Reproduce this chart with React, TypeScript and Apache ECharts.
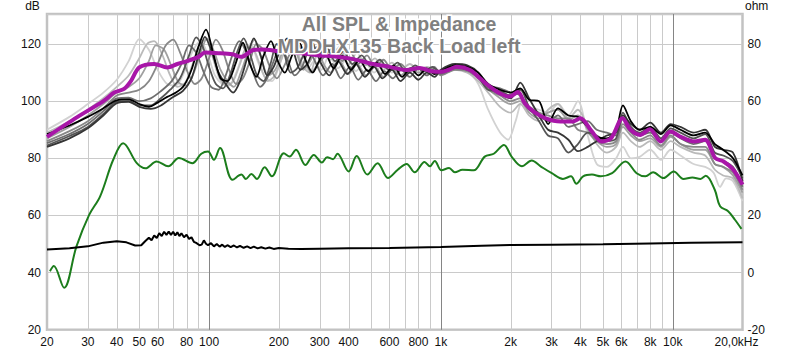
import React, { useEffect, useRef } from "react";
import * as echarts from "echarts";

// ---------- axis / tick data ----------
const GRID_FREQS = [30, 40, 50, 60, 70, 80, 90, 100, 200, 300, 400, 500, 600, 700, 800, 900, 1000, 2000, 3000, 4000, 5000, 6000, 7000, 8000, 9000, 10000];
const DECADE_FREQS = [100, 1000, 10000];
const TICK_FREQS = [20, 30, 40, 50, 60, 80, 100, 200, 300, 400, 600, 800, 1000, 2000, 3000, 4000, 5000, 6000, 8000, 10000, 20000];
const TICK_LABELS = ["20", "30", "40", "50", "60", "80", "100", "200", "300", "400", "600", "800", "1k", "2k", "3k", "4k", "5k", "6k", "8k", "10k", "20,0kHz"];
const DB_MIN = 20;
const DB_MAX = 130.5;
const OHM_MIN = -20;
const OHM_MAX = 90.5;
const STEP = 20;
const TITLE_LINES = ["All SPL & Impedance", "MDDHX135 Back Load left"];

// ---------- series data: [frequency Hz, dB] ----------
const SPL_A = [[20,88.5],[25,91.5],[30,94.5],[35,97.5],[40,100.3],[45,100.6],[50,99],[55,98],[60,99.5],[66,101.5],[72,103],[78,105.5],[84,111],[90,119],[97,125],[104,117],[112,108],[120,107],[130,113],[140,120.5],[150,113],[160,108.5],[172,116],[185,121],[198,114],[212,110],[228,116],[245,120.5],[262,114],[280,110],[298,114],[315,117],[345,111.5],[375,116],[410,111],[445,114.5],[485,110.5],[530,113.5],[575,109.5],[625,112.5],[680,108.5],[740,111.5],[800,109],[870,111.5],[940,109.5],[1000,110.5],[1150,112.5],[1300,112],[1450,110],[1600,106],[1800,104],[2000,103],[2200,104.5],[2400,100.5],[2650,100],[2900,92],[3200,97.5],[3550,95],[3900,94.5],[4300,91],[4700,87.5],[5200,87],[5700,90],[6100,98.5],[6600,93],[7200,90],[8000,91],[8900,88.5],[9800,91.5],[10800,90],[12300,88],[13800,89],[15200,85],[16500,83],[18200,80],[20000,74]];
const SPL_B = [[20,84],[25,87],[30,90.5],[35,95],[40,99.3],[45,99.8],[50,98],[56,97.3],[62,98.5],[70,101.5],[77,103.5],[84,108],[90,116],[96,122.5],[103,117],[110,110],[118,106],[127,103],[136,107],[146,115],[156,122],[167,116],[178,109],[190,112],[203,118],[217,122],[232,117],[248,111],[265,113],[285,118],[305,113],[330,109],[360,114],[395,109.5],[430,113],[470,108.5],[515,112],[560,108],[615,111],[670,107],[735,110],[800,107.5],[870,110],[940,108.5],[1000,111],[1150,113],[1300,112.5],[1450,110],[1600,105],[1800,102.5],[2000,101],[2200,106.5],[2400,101],[2650,95],[2900,90],[3200,89],[3550,86.5],[3900,82.5],[4300,84],[4700,86],[5200,88],[5700,89],[6100,95],[6600,92],[7200,90],[8000,92.5],[8900,89],[9800,92],[10800,91],[12300,89],[13800,90],[15200,84],[16500,83],[18200,82],[20000,72]];
const SPL_C = [[20,84.5],[25,87.8],[30,91],[35,95.5],[40,99.8],[45,100],[50,98.5],[56,98.5],[62,101],[68,104],[75,108],[82,116],[88,122.3],[94,119],[100,112],[107,106],[115,104.5],[123,109],[132,117],[141,122],[151,116],[161,109],[172,107],[184,113],[196,120],[210,117],[225,110],[240,111.5],[258,117],[277,121],[297,116],[320,119],[350,114],[380,117.5],[415,113],[455,116],[500,112],[545,114.5],[595,111],[650,113.5],[710,110],[775,112.5],[845,110.5],[920,112],[1000,110],[1150,112],[1300,111],[1450,108.5],[1600,104],[1800,103.5],[2000,102],[2200,104],[2400,98],[2650,93],[2900,88],[3200,87],[3550,82],[3900,85],[4300,89],[4700,88],[5200,86],[5700,87],[6100,96],[6600,91],[7200,89],[8000,91],[8900,87],[9800,90.5],[10800,89],[12300,87],[13800,88.5],[15200,82],[16500,81],[18200,79],[20000,73]];
const SPL_D = [[20,85.3],[25,88.5],[30,92],[35,96.5],[40,101],[45,101.2],[50,100],[56,101],[62,103.5],[69,107],[76,113],[82,119.5],[88,117],[95,110],[102,105],[110,104],[118,109],[126,116],[135,121],[145,117],[155,110],[166,105],[178,108],[190,114],[203,119],[218,114.5],[234,109],[252,112],[270,117.5],[290,113],[310,109],[340,113],[370,108],[405,112],[440,107.5],[480,111],[525,107],[570,110.5],[620,108],[675,111],[735,108.5],[800,111.5],[870,109],[940,111.5],[1000,109.5],[1150,111.5],[1300,111],[1450,109],[1600,105.5],[1800,104.5],[2000,103],[2200,102],[2400,97],[2650,95],[2900,93],[3200,95],[3550,91],[3900,92],[4300,93],[4700,90],[5200,89],[5700,88],[6100,94],[6600,90],[7200,88],[8000,89],[8900,86],[9800,89],[10800,87],[12300,85],[13800,86],[15200,80],[16500,79],[18200,77],[20000,70]];
const SPL_E = [[20,86],[25,89.5],[30,93],[35,97.5],[40,102],[45,103],[50,104],[55,107],[60,113],[65,119.5],[70,121.5],[75,117],[81,110],[87,106],[93,108],[100,115],[107,121.5],[114,118],[122,111],[131,106],[140,108],[150,114],[160,120],[171,118],[183,112],[196,108],[210,112],[225,117],[241,120],[258,115],[276,110],[295,113],[318,116],[345,119],[375,114],[405,117.5],[440,113],[480,116],[520,112],[565,114.5],[615,111],[670,113],[730,110.5],[795,112],[865,110.5],[935,112],[1000,109],[1150,111],[1300,110.5],[1450,108],[1600,104],[1800,102],[2000,100],[2200,101],[2400,98],[2650,96],[2900,95],[3200,94],[3550,94],[3900,90],[4300,89],[4700,86],[5200,85],[5700,86],[6100,92],[6600,89],[7200,86.5],[8000,88],[8900,84.5],[9800,88],[10800,85],[12300,84],[13800,84],[15200,78],[16500,77],[18200,75],[20000,69]];
const SPL_F = [[20,87],[25,91],[30,95],[35,99],[40,103],[45,105],[50,108],[55,114],[59,119.5],[64,118],[69,112],[74,106.5],[80,105.5],[86,110],[92,117],[98,122],[105,117.5],[112,111],[120,107],[128,105],[137,110],[147,117],[157,121.5],[168,115],[180,109],[193,111],[207,117],[222,121],[238,117],[255,111],[273,114],[292,119],[312,113],[335,110],[365,114],[400,109.5],[435,113],[475,109],[520,112],[565,108.5],[615,111.5],[670,109],[735,111.5],[800,110],[870,111],[940,109.5],[1000,110],[1150,111.5],[1300,111],[1450,109],[1600,104.5],[1800,101],[2000,99],[2200,100],[2400,96],[2650,94],[2900,96],[3200,97],[3550,93.5],[3900,95],[4300,90],[4700,86],[5200,84],[5700,85],[6100,91],[6600,88],[7200,86],[8000,87],[8900,84],[9800,87.5],[10800,85],[12300,83],[13800,83],[15200,78],[16500,77],[18200,74],[20000,68]];
const SPL_G = [[20,89],[25,93],[30,97],[35,101],[40,105],[45,109],[50,115],[54,120],[58,121],[63,116],[68,109],[73,105],[79,106.5],[85,113],[91,120],[97,121.5],[104,115],[111,108],[119,105.5],[127,107],[136,113],[146,119],[156,118],[167,112],[179,107],[192,109],[206,115],[221,120],[237,118],[254,112],[272,110],[291,116],[310,118],[335,114.5],[365,119],[400,113],[435,117],[475,112.5],[520,115],[565,111],[615,113.5],[670,111],[735,113],[800,111],[870,112],[940,111],[1000,109.5],[1150,111],[1300,110],[1450,107],[1600,103],[1800,98],[2000,96],[2200,99],[2400,95],[2650,93],[2900,97],[3200,99],[3550,94],[3900,97],[4300,91],[4700,85],[5200,82],[5700,84],[6100,89],[6600,86],[7200,84],[8000,86],[8900,83],[9800,86],[10800,84],[12300,82],[13800,81],[15200,76],[16500,74],[18200,73],[20000,66]];
const SPL_H = [[20,90],[25,94.5],[30,99],[35,103],[40,107.5],[45,114],[50,121.7],[55,118],[60,111],[66,106],[72,105.5],[78,110],[85,117.5],[92,121],[99,116],[106,109],[114,106],[122,105.5],[131,110],[141,117],[151,120],[162,114],[174,108.5],[187,107],[200,112],[215,119],[230,121],[247,115],[265,111],[284,114],[305,111],[330,116],[360,111.5],[395,115],[430,110.5],[470,113.5],[515,110],[560,112.5],[615,110],[670,112],[735,110],[800,112],[870,110.5],[940,112],[1000,109.5],[1150,111.5],[1300,110.5],[1450,106],[1600,97],[1800,89],[1950,86.5],[2100,93],[2250,100],[2400,98],[2650,97],[2900,96],[3200,99],[3550,95],[3900,100],[4300,88],[4700,78],[5200,77],[5700,80],[6100,84],[6600,80],[7200,80.5],[8000,83],[8900,79.5],[9800,83],[10800,81],[12300,78],[13800,77],[15000,75],[16000,70],[17000,73],[18200,72],[20000,65]];
const SPL_AVG = [[20,87.5],[27,94.4],[35,100],[39,103],[43,104.3],[46,107],[50,111.8],[58,113],[66,111.8],[73,113],[81,114.1],[90,115.5],[96,117],[110,116.8],[126,116.4],[138,115.5],[155,117.9],[171,118.1],[200,117.5],[250,116.8],[300,116],[343,115.7],[419,114.7],[509,113],[601,112],[711,110.9],[809,111.6],[923,110.4],[1000,110.3],[1080,111],[1170,112],[1336,110.9],[1474,108],[1626,105.1],[1794,102.8],[1979,101.6],[2150,103.2],[2300,99.3],[2513,96.3],[2829,94],[3277,92.9],[3700,92.9],[4000,94],[4470,89.5],[4930,85.9],[5430,87.1],[6070,94],[6575,90],[7240,88.2],[7970,90.2],[8880,85.9],[9780,89.4],[10770,87.6],[12340,85.9],[13800,86.5],[15250,80.1],[16570,78.9],[18270,76],[20000,70.8]];
const SPL_GREEN = [[20.6,40.5],[21.4,42.3],[23.7,34.7],[26.8,49.2],[30.4,60.2],[33.9,66.7],[38.6,79.5],[42.6,85.3],[48.8,78.3],[53.2,76.5],[59.4,78.9],[66.7,77.2],[74.1,80.1],[84.7,78.3],[92.6,81.6],[99,82.4],[104.9,79.5],[111.5,83.6],[126.3,72.5],[138,74.3],[144.2,72.8],[152.2,74.5],[161,72.8],[173.7,76.9],[186.6,73.7],[210.2,81.8],[222.7,80.6],[237.1,83],[260.3,77.7],[283.1,81.2],[306.7,78.5],[323.1,80.4],[342.6,79.7],[357.9,81.6],[400,75.4],[433.3,80.8],[481.8,74.3],[533.7,78.3],[591.3,73.1],[651.6,76],[711.9,78],[770.8,75.1],[850.3,78.7],[896.3,77.2],[941,79.1],[1006,75.8],[1085,76.6],[1149,75.1],[1239,76],[1385,75.8],[1546,80.6],[1691,81.6],[1871,84.7],[2018,80.6],[2236,77.2],[2464,79.2],[2692,77.2],[3009,74.8],[3362,72.8],[3641,73.7],[3841,71.1],[4106,73.7],[4485,74.3],[4899,73.7],[5477,74.8],[6256,78.9],[6987,74.8],[7631,73.7],[8230,75.1],[9118,73.1],[10097,75.4],[11130,72.8],[12160,73.3],[13180,72.8],[13890,73.9],[15180,69],[16010,63.2],[17340,61.5],[18520,58.6],[19800,55.3]];
// impedance: [frequency Hz, ohm]
const IMPEDANCE = [[20,8.1],[25,8.5],[30,9.2],[35,10.5],[40,11],[44,10.6],[48,9.5],[51,9.6],[53,11],[55,12.2],[56.5,11.3],[58,13],[59.5,12.1],[61,13.8],[62.5,12.8],[64,14.3],[65.5,13.2],[67,14.4],[68.5,13.2],[70,14.3],[71.5,13],[73,14.1],[74.5,12.8],[76,13.8],[78,12.4],[80,13.3],[82,11.8],[84,12.4],[86,10.8],[88,10.4],[91,9.6],[93,9.8],[95,11.3],[97,10.1],[99,9.6],[102,10.3],[105,9.2],[108,10],[111,9.1],[114,9.8],[117,9],[120,9.6],[124,8.9],[128,9.5],[132,8.8],[136,9.4],[141,8.7],[146,9.2],[151,8.6],[156,9.1],[162,8.5],[168,8.9],[175,8.4],[182,8.8],[190,8.3],[200,8.6],[220,8.4],[250,8.3],[300,8.4],[400,8.5],[600,8.6],[1000,9],[1500,9.4],[2000,9.7],[3000,9.8],[5000,9.9],[8000,10.2],[12000,10.5],[20000,10.6]];

const FONT = '"Liberation Sans", Arial, sans-serif';

function buildOption() {
  const grays: [number[][], string][] = [
    [SPL_H, "#d2d2d2"],
    [SPL_G, "#bababa"],
    [SPL_F, "#a0a0a0"],
    [SPL_E, "#888888"],
    [SPL_D, "#6e6e6e"],
    [SPL_C, "#555555"],
    [SPL_B, "#363636"],
    [SPL_A, "#000000"],
  ];
  const lineSeries = grays.map(([d, c]) => ({
    type: "line",
    data: d,
    yAxisIndex: 0,
    symbol: "none",
    smooth: 0.3,
    z: 3,
    lineStyle: { color: c, width: 1.8 },
    silent: true,
  }));
  return {
    animation: false,
    backgroundColor: "#ffffff",
    grid: {
      left: 47,
      right: 57.5,
      top: 14,
      bottom: 20.2,
      show: true,
      borderColor: "#c2c2c2",
      borderWidth: 2.5,
      backgroundColor: "transparent",
    },
    xAxis: {
      type: "log",
      logBase: 10,
      min: 20,
      max: 20000,
      axisLine: { show: false },
      axisTick: { show: false },
      axisLabel: { show: false },
      splitLine: { show: false },
    },
    yAxis: [
      {
        type: "value",
        min: DB_MIN,
        max: DB_MAX,
        interval: STEP,
        axisLine: { show: false },
        axisTick: { show: false },
        splitLine: { show: true, lineStyle: { color: "#cacaca", width: 1 } },
        axisLabel: { showMaxLabel: false, fontSize: 12, color: "#111", fontFamily: FONT, margin: 6 },
      },
      {
        type: "value",
        position: "right",
        min: OHM_MIN,
        max: OHM_MAX,
        interval: STEP,
        axisLine: { show: false },
        axisTick: { show: false },
        splitLine: { show: false },
        axisLabel: { showMaxLabel: false, fontSize: 12, color: "#111", fontFamily: FONT, margin: 5 },
      },
    ],
    graphic: [
      { type: "text", x: 32.5, y: 6, z: 100, style: { text: "dB", align: "center", verticalAlign: "middle", fontSize: 12, fontFamily: FONT, fill: "#111" } },
      { type: "text", x: 745, y: 6, z: 100, style: { text: "ohm", align: "left", verticalAlign: "middle", fontSize: 12, fontFamily: FONT, fill: "#111" } },
      {
        type: "text",
        x: 399,
        y: 35,
        z: 100,
        style: {
          text: TITLE_LINES.join("\n"),
          align: "center",
          verticalAlign: "middle",
          fontSize: 19.5,
          lineHeight: 21.5,
          fontWeight: "bold",
          fontFamily: FONT,
          fill: "#808080",
          stroke: "#ffffff",
          lineWidth: 3,
        },
      },
    ],
    series: [
      {
        type: "custom",
        silent: true,
        z: 1,
        data: GRID_FREQS.map((f) => [f, DB_MIN]),
        renderItem: (params: any, api: any) => {
          const f = api.value(0);
          const b = api.coord([f, DB_MIN]);
          const t = api.coord([f, DB_MAX]);
          const x = Math.round(b[0]) + 0.5;
          return {
            type: "line",
            shape: { x1: x, y1: b[1], x2: x, y2: t[1] },
            style: { stroke: DECADE_FREQS.includes(f) ? "#858585" : "#cacaca", lineWidth: 1 },
          };
        },
      },
      {
        type: "custom",
        silent: true,
        z: 1,
        clip: false,
        data: TICK_FREQS.map((f) => [f, DB_MIN]),
        renderItem: (params: any, api: any) => {
          const f = api.value(0);
          const b = api.coord([f, DB_MIN]);
          return {
            type: "text",
            x: b[0] + (f === 20000 ? -6 : 0),
            y: b[1] + 12,
            style: {
              text: TICK_LABELS[params.dataIndex],
              align: "center",
              verticalAlign: "middle",
              fontSize: 12,
              fontFamily: FONT,
              fill: "#111",
            },
          };
        },
      },
      ...lineSeries,
      {
        type: "line",
        data: SPL_AVG,
        yAxisIndex: 0,
        symbol: "none",
        smooth: 0.3,
        z: 5,
        lineStyle: { color: "#a816a8", width: 4 },
        silent: true,
      },
      {
        type: "line",
        data: SPL_GREEN,
        yAxisIndex: 0,
        symbol: "none",
        smooth: 0.35,
        z: 4,
        lineStyle: { color: "#1c7d1c", width: 2 },
        silent: true,
      },
      {
        type: "line",
        data: IMPEDANCE,
        yAxisIndex: 1,
        symbol: "none",
        smooth: false,
        z: 4,
        lineStyle: { color: "#000000", width: 2 },
        silent: true,
      },
    ],
  };
}

export default function App() {
  const ref = useRef<HTMLDivElement>(null);
  useEffect(() => {
    const chart = echarts.init(ref.current as HTMLDivElement, undefined, { renderer: "svg" });
    chart.setOption(buildOption() as any);
    return () => chart.dispose();
  }, []);
  return (
    <div
      ref={ref}
      style={{ position: "fixed", left: 0, top: 0, width: 800, height: 350, background: "#fff" }}
    />
  );
}
